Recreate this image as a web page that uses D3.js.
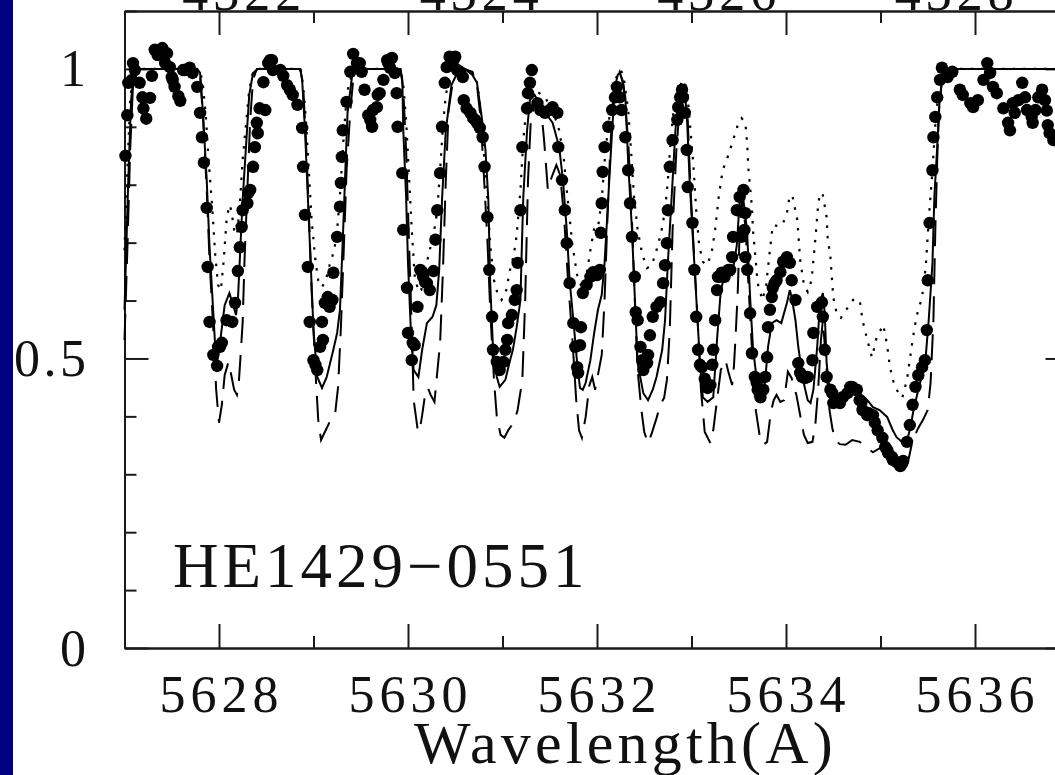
<!DOCTYPE html>
<html><head><meta charset="utf-8">
<script src="https://cdn.jsdelivr.net/npm/d3@7"></script>
<style>
html,body{margin:0;padding:0;background:#fff;overflow:hidden}
svg{display:block}
text{font-family:"Liberation Serif","Times New Roman",serif;fill:#111}
</style></head><body>
<svg id="chart" width="1055" height="775"></svg>
<script>
// Observed normalised flux, [wavelength (A), flux]
const observed = [
[5627.01,0.850],[5627.03,0.920],[5627.04,0.976],[5627.08,0.981],[5627.09,1.010],[5627.11,0.998],
[5627.16,0.976],[5627.19,0.951],[5627.20,0.932],[5627.23,0.914],[5627.27,0.950],[5627.29,0.988],
[5627.32,1.033],[5627.35,1.024],[5627.38,1.029],[5627.40,1.036],[5627.43,1.010],[5627.45,1.027],
[5627.48,1.003],[5627.50,0.986],[5627.51,0.981],[5627.53,0.969],[5627.57,0.953],[5627.59,0.945],
[5627.62,0.998],[5627.64,0.998],[5627.69,1.002],[5627.72,0.993],[5627.77,0.969],[5627.80,0.924],
[5627.82,0.882],[5627.84,0.838],[5627.87,0.760],[5627.88,0.658],[5627.90,0.563],[5627.94,0.506],
[5627.98,0.487],[5627.99,0.520],[5628.01,0.520],[5628.03,0.527],[5628.08,0.566],[5628.14,0.563],
[5628.17,0.596],[5628.20,0.651],[5628.22,0.692],[5628.24,0.727],[5628.25,0.756],[5628.30,0.768],
[5628.31,0.786],[5628.33,0.791],[5628.36,0.831],[5628.38,0.865],[5628.40,0.907],[5628.41,0.889],
[5628.43,0.932],[5628.47,0.977],[5628.49,0.929],[5628.52,1.010],[5628.54,1.015],[5628.56,1.015],
[5628.57,0.998],[5628.65,0.998],[5628.68,0.988],[5628.72,0.972],[5628.75,0.964],[5628.78,0.955],
[5628.83,0.938],[5628.88,0.898],[5628.89,0.831],[5628.91,0.748],[5628.94,0.658],[5628.96,0.563],
[5629.00,0.497],[5629.02,0.489],[5629.04,0.480],[5629.07,0.520],[5629.09,0.563],[5629.10,0.532],
[5629.12,0.596],[5629.14,0.597],[5629.15,0.606],[5629.17,0.589],[5629.20,0.601],[5629.21,0.648],
[5629.25,0.710],[5629.28,0.762],[5629.29,0.803],[5629.30,0.848],[5629.31,0.894],[5629.35,0.943],
[5629.39,0.995],[5629.42,1.026],[5629.46,1.010],[5629.49,1.010],[5629.51,0.995],[5629.54,0.964],
[5629.58,0.920],[5629.60,0.912],[5629.62,0.900],[5629.63,0.929],[5629.67,0.934],[5629.68,0.955],
[5629.70,0.958],[5629.74,0.981],[5629.78,1.015],[5629.79,1.010],[5629.81,1.002],[5629.83,1.019],
[5629.86,0.993],[5629.88,0.958],[5629.89,0.900],[5629.94,0.820],[5629.95,0.722],[5629.99,0.622],
[5630.00,0.544],[5630.04,0.497],[5630.05,0.527],[5630.07,0.523],[5630.10,0.589],[5630.13,0.653],
[5630.15,0.649],[5630.16,0.641],[5630.18,0.632],[5630.20,0.630],[5630.23,0.618],[5630.27,0.651],
[5630.29,0.705],[5630.31,0.756],[5630.34,0.820],[5630.36,0.900],[5630.39,0.976],[5630.41,1.003],
[5630.44,1.021],[5630.48,1.015],[5630.50,1.021],[5630.52,0.998],[5630.55,0.995],[5630.58,0.986],
[5630.59,0.946],[5630.62,0.932],[5630.66,0.924],[5630.69,0.915],[5630.71,0.912],[5630.73,0.907],
[5630.76,0.898],[5630.79,0.882],[5630.81,0.831],[5630.84,0.744],[5630.86,0.653],[5630.89,0.572],
[5630.90,0.515],[5630.94,0.494],[5630.97,0.480],[5631.01,0.494],[5631.03,0.515],[5631.05,0.532],
[5631.06,0.561],[5631.10,0.575],[5631.13,0.601],[5631.15,0.618],[5631.16,0.665],[5631.19,0.756],
[5631.21,0.865],[5631.26,0.932],[5631.27,0.958],[5631.29,0.976],[5631.31,0.998],[5631.37,0.941],
[5631.40,0.929],[5631.45,0.924],[5631.50,0.929],[5631.53,0.934],[5631.58,0.924],[5631.59,0.865],
[5631.63,0.808],[5631.66,0.756],[5631.68,0.699],[5631.71,0.630],[5631.75,0.561],[5631.77,0.520],
[5631.79,0.485],[5631.80,0.475],[5631.82,0.523],[5631.83,0.554],[5631.85,0.613],[5631.89,0.627],
[5631.93,0.641],[5631.96,0.649],[5632.00,0.644],[5632.03,0.653],[5632.04,0.717],[5632.05,0.768],
[5632.06,0.822],[5632.08,0.865],[5632.12,0.900],[5632.16,0.929],[5632.19,0.951],[5632.21,0.969],
[5632.24,0.951],[5632.26,0.929],[5632.30,0.882],[5632.33,0.825],[5632.35,0.768],[5632.37,0.710],
[5632.40,0.641],[5632.41,0.580],[5632.43,0.566],[5632.46,0.520],[5632.48,0.497],[5632.49,0.480],
[5632.53,0.492],[5632.54,0.506],[5632.56,0.540],[5632.59,0.572],[5632.63,0.589],[5632.67,0.597],
[5632.70,0.630],[5632.72,0.661],[5632.74,0.699],[5632.75,0.756],[5632.77,0.831],[5632.80,0.877],
[5632.85,0.912],[5632.86,0.934],[5632.88,0.951],[5632.90,0.964],[5632.91,0.951],[5632.93,0.924],
[5632.95,0.860],[5632.96,0.796],[5633.01,0.734],[5633.03,0.653],[5633.05,0.572],[5633.07,0.515],
[5633.09,0.489],[5633.11,0.485],[5633.14,0.465],[5633.17,0.449],[5633.20,0.454],[5633.22,0.489],
[5633.23,0.515],[5633.25,0.566],[5633.27,0.618],[5633.28,0.641],[5633.30,0.641],[5633.32,0.648],
[5633.35,0.641],[5633.39,0.653],[5633.41,0.653],[5633.43,0.675],[5633.44,0.710],[5633.48,0.756],
[5633.51,0.779],[5633.53,0.710],[5633.55,0.791],[5633.56,0.722],[5633.57,0.751],[5633.57,0.675],
[5633.59,0.653],[5633.62,0.578],[5633.64,0.509],[5633.67,0.468],[5633.69,0.458],[5633.70,0.446],
[5633.73,0.433],[5633.76,0.446],[5633.78,0.468],[5633.80,0.502],[5633.81,0.554],[5633.83,0.584],
[5633.85,0.606],[5633.86,0.622],[5633.88,0.630],[5633.90,0.635],[5633.94,0.649],[5633.97,0.667],
[5634.01,0.675],[5634.04,0.665],[5634.06,0.635],[5634.10,0.601],[5634.13,0.492],[5634.15,0.475],
[5634.17,0.468],[5634.20,0.466],[5634.23,0.468],[5634.28,0.497],[5634.29,0.544],[5634.33,0.589],
[5634.38,0.597],[5634.39,0.572],[5634.41,0.515],[5634.43,0.468],[5634.47,0.446],[5634.49,0.440],
[5634.50,0.423],[5634.54,0.425],[5634.57,0.423],[5634.60,0.433],[5634.65,0.440],[5634.68,0.451],
[5634.70,0.451],[5634.73,0.446],[5634.75,0.446],[5634.78,0.428],[5634.80,0.425],[5634.81,0.411],
[5634.86,0.402],[5634.87,0.406],[5634.92,0.402],[5634.94,0.389],[5634.97,0.376],[5635.02,0.363],
[5635.05,0.347],[5635.07,0.342],[5635.08,0.337],[5635.12,0.330],[5635.13,0.325],[5635.17,0.321],
[5635.21,0.314],[5635.23,0.319],[5635.24,0.323],[5635.28,0.356],[5635.31,0.385],[5635.34,0.420],
[5635.37,0.451],[5635.40,0.471],[5635.44,0.485],[5635.47,0.497],[5635.49,0.549],[5635.50,0.635],
[5635.52,0.734],[5635.55,0.825],[5635.56,0.882],[5635.58,0.917],[5635.60,0.951],[5635.63,0.981],
[5635.65,1.002],[5635.71,0.986],[5635.76,0.995],[5635.84,0.964],[5635.87,0.955],[5635.95,0.941],
[5635.98,0.934],[5636.03,0.946],[5636.09,0.981],[5636.13,1.010],[5636.16,0.993],[5636.19,0.969],
[5636.23,0.958],[5636.30,0.932],[5636.35,0.907],[5636.37,0.894],[5636.40,0.941],[5636.42,0.924],
[5636.46,0.946],[5636.50,0.976],[5636.53,0.951],[5636.55,0.929],[5636.60,0.917],[5636.61,0.907],
[5636.64,0.929],[5636.67,0.951],[5636.71,0.964],[5636.74,0.946],[5636.76,0.928],[5636.77,0.903],
[5636.79,0.889],[5636.83,0.877]
];

// Synthetic spectrum, adopted abundance (solid)
const solidModel = [
[5627.00,0.584],[5627.04,0.808],[5627.07,0.946],[5627.10,0.995],[5627.13,1.000],[5627.77,1.000],
[5627.80,0.993],[5627.83,0.924],[5627.87,0.808],[5627.90,0.692],[5627.94,0.578],[5627.96,0.520],
[5627.98,0.492],[5628.02,0.540],[5628.06,0.592],[5628.11,0.613],[5628.15,0.592],[5628.18,0.575],
[5628.20,0.601],[5628.22,0.670],[5628.25,0.774],[5628.29,0.877],[5628.32,0.955],[5628.36,0.993],
[5628.41,1.000],[5628.86,1.000],[5628.88,0.981],[5628.91,0.894],[5628.94,0.779],[5628.97,0.665],
[5629.00,0.549],[5629.04,0.468],[5629.09,0.449],[5629.14,0.468],[5629.21,0.515],[5629.25,0.544],
[5629.28,0.584],[5629.31,0.705],[5629.34,0.838],[5629.36,0.924],[5629.41,0.990],[5629.45,1.000],
[5629.92,1.000],[5629.94,0.981],[5629.95,0.894],[5629.98,0.779],[5630.00,0.665],[5630.03,0.549],
[5630.06,0.480],[5630.11,0.468],[5630.15,0.515],[5630.20,0.561],[5630.26,0.572],[5630.30,0.592],
[5630.33,0.653],[5630.36,0.774],[5630.40,0.894],[5630.46,0.972],[5630.53,0.996],[5630.60,1.000],
[5630.68,0.990],[5630.73,0.976],[5630.78,0.917],[5630.82,0.860],[5630.85,0.774],[5630.87,0.630],
[5630.90,0.515],[5630.94,0.468],[5630.97,0.451],[5631.03,0.463],[5631.08,0.497],[5631.11,0.515],
[5631.15,0.554],[5631.19,0.601],[5631.20,0.665],[5631.22,0.779],[5631.26,0.894],[5631.29,0.946],
[5631.34,0.955],[5631.43,0.929],[5631.53,0.907],[5631.60,0.865],[5631.64,0.808],[5631.68,0.722],
[5631.71,0.635],[5631.75,0.566],[5631.79,0.492],[5631.82,0.449],[5631.85,0.446],[5631.88,0.458],
[5631.93,0.497],[5631.97,0.544],[5632.01,0.584],[5632.05,0.610],[5632.08,0.665],[5632.12,0.779],
[5632.16,0.894],[5632.19,0.969],[5632.22,0.990],[5632.24,0.993],[5632.27,0.981],[5632.30,0.951],
[5632.33,0.838],[5632.37,0.722],[5632.40,0.606],[5632.43,0.492],[5632.49,0.440],[5632.54,0.428],
[5632.59,0.446],[5632.63,0.468],[5632.69,0.515],[5632.72,0.566],[5632.75,0.665],[5632.79,0.779],
[5632.83,0.894],[5632.86,0.951],[5632.90,0.969],[5632.92,0.972],[5632.95,0.924],[5632.98,0.808],
[5633.02,0.692],[5633.06,0.578],[5633.09,0.492],[5633.12,0.433],[5633.17,0.425],[5633.23,0.433],
[5633.27,0.532],[5633.31,0.618],[5633.36,0.649],[5633.43,0.644],[5633.48,0.696],[5633.51,0.774],
[5633.53,0.796],[5633.57,0.748],[5633.59,0.713],[5633.62,0.606],[5633.65,0.520],[5633.69,0.463],
[5633.73,0.433],[5633.75,0.428],[5633.78,0.463],[5633.81,0.520],[5633.85,0.561],[5633.90,0.566],
[5633.95,0.561],[5634.01,0.596],[5634.04,0.618],[5634.06,0.606],[5634.10,0.566],[5634.13,0.520],
[5634.18,0.463],[5634.23,0.428],[5634.26,0.423],[5634.29,0.446],[5634.33,0.520],[5634.36,0.596],
[5634.39,0.613],[5634.41,0.578],[5634.43,0.492],[5634.47,0.433],[5634.52,0.423],[5634.57,0.433],
[5634.65,0.446],[5634.71,0.458],[5634.78,0.440],[5634.86,0.428],[5634.92,0.416],[5634.99,0.411],
[5635.07,0.399],[5635.13,0.376],[5635.17,0.364],[5635.24,0.354],[5635.28,0.359],[5635.31,0.376],
[5635.35,0.411],[5635.40,0.446],[5635.44,0.471],[5635.48,0.506],[5635.51,0.566],[5635.55,0.665],
[5635.57,0.779],[5635.60,0.865],[5635.62,0.934],[5635.65,0.981],[5635.68,0.998],[5635.71,1.000],
[5637.00,1.000]
];

// Weaker-line synthesis (dotted)
const dottedModel = [
[5627.00,0.687],[5627.03,0.825],[5627.06,0.946],[5627.09,0.989],[5627.12,1.000],[5627.77,1.000],
[5627.80,0.998],[5627.83,0.972],[5627.86,0.920],[5627.89,0.843],[5627.93,0.756],[5627.96,0.679],
[5627.99,0.627],[5628.02,0.618],[5628.05,0.670],[5628.08,0.739],[5628.11,0.765],[5628.13,0.756],
[5628.16,0.722],[5628.19,0.713],[5628.22,0.765],[5628.25,0.843],[5628.29,0.912],[5628.32,0.964],
[5628.36,0.995],[5628.41,1.000],[5628.86,1.000],[5628.89,0.972],[5628.92,0.912],[5628.95,0.825],
[5628.98,0.739],[5629.02,0.670],[5629.05,0.635],[5629.09,0.623],[5629.13,0.635],[5629.17,0.661],
[5629.22,0.687],[5629.25,0.722],[5629.28,0.782],[5629.31,0.860],[5629.34,0.929],[5629.37,0.972],
[5629.42,0.995],[5629.46,1.000],[5629.92,1.000],[5629.95,0.972],[5629.98,0.912],[5630.01,0.817],
[5630.04,0.722],[5630.07,0.644],[5630.11,0.615],[5630.14,0.618],[5630.18,0.653],[5630.23,0.687],
[5630.27,0.713],[5630.31,0.756],[5630.34,0.825],[5630.37,0.903],[5630.40,0.955],[5630.44,0.984],
[5630.51,0.998],[5630.60,1.000],[5630.68,0.995],[5630.73,0.977],[5630.77,0.929],[5630.80,0.860],
[5630.84,0.774],[5630.87,0.696],[5630.91,0.635],[5630.95,0.610],[5630.99,0.601],[5631.04,0.618],
[5631.08,0.653],[5631.12,0.679],[5631.15,0.713],[5631.19,0.791],[5631.22,0.877],[5631.25,0.929],
[5631.29,0.955],[5631.34,0.964],[5631.45,0.951],[5631.53,0.929],[5631.60,0.894],[5631.65,0.843],
[5631.69,0.774],[5631.74,0.696],[5631.79,0.644],[5631.84,0.622],[5631.88,0.635],[5631.93,0.687],
[5631.97,0.725],[5632.01,0.725],[5632.05,0.774],[5632.09,0.860],[5632.14,0.929],[5632.18,0.972],
[5632.22,0.993],[5632.25,0.998],[5632.28,0.989],[5632.33,0.929],[5632.36,0.860],[5632.39,0.782],
[5632.43,0.722],[5632.48,0.679],[5632.53,0.656],[5632.58,0.661],[5632.63,0.687],[5632.68,0.718],
[5632.72,0.756],[5632.75,0.808],[5632.78,0.877],[5632.81,0.929],[5632.86,0.964],[5632.91,0.981],
[5632.95,0.967],[5632.98,0.912],[5633.02,0.834],[5633.05,0.756],[5633.08,0.696],[5633.12,0.667],
[5633.16,0.661],[5633.21,0.679],[5633.25,0.722],[5633.29,0.782],[5633.33,0.825],[5633.39,0.851],
[5633.44,0.877],[5633.49,0.903],[5633.53,0.915],[5633.57,0.907],[5633.59,0.869],[5633.60,0.831],
[5633.62,0.796],[5633.64,0.760],[5633.65,0.722],[5633.67,0.687],[5633.70,0.630],[5633.75,0.601],
[5633.79,0.627],[5633.83,0.687],[5633.86,0.730],[5633.91,0.729],[5633.96,0.730],[5634.01,0.751],
[5634.04,0.782],[5634.07,0.779],[5634.12,0.739],[5634.15,0.670],[5634.19,0.627],[5634.23,0.615],
[5634.27,0.635],[5634.31,0.705],[5634.34,0.765],[5634.36,0.786],[5634.39,0.782],[5634.43,0.744],
[5634.44,0.710],[5634.47,0.675],[5634.50,0.606],[5634.54,0.575],[5634.58,0.570],[5634.65,0.587],
[5634.71,0.601],[5634.78,0.601],[5634.81,0.566],[5634.86,0.532],[5634.91,0.502],[5634.96,0.537],
[5635.03,0.558],[5635.07,0.523],[5635.10,0.485],[5635.15,0.451],[5635.23,0.432],[5635.28,0.463],
[5635.34,0.532],[5635.38,0.572],[5635.44,0.606],[5635.48,0.661],[5635.51,0.739],[5635.55,0.825],
[5635.58,0.903],[5635.61,0.955],[5635.64,0.984],[5635.68,0.998],[5635.71,1.000],[5637.00,1.000]
];

// Stronger-line synthesis (dashed)
const dashedModel = [
[5627.00,0.532],[5627.03,0.687],[5627.06,0.860],[5627.09,0.972],[5627.12,1.000],[5627.77,1.000],
[5627.80,0.989],[5627.83,0.920],[5627.87,0.791],[5627.90,0.670],[5627.94,0.549],[5627.97,0.446],
[5628.00,0.389],[5628.03,0.420],[5628.06,0.471],[5628.10,0.494],[5628.13,0.471],[5628.16,0.446],
[5628.19,0.437],[5628.21,0.459],[5628.23,0.509],[5628.25,0.561],[5628.27,0.670],[5628.30,0.791],
[5628.33,0.912],[5628.36,0.981],[5628.40,1.000],[5628.86,1.000],[5628.89,0.972],[5628.92,0.877],
[5628.95,0.756],[5628.98,0.618],[5629.02,0.480],[5629.05,0.394],[5629.08,0.359],[5629.12,0.373],
[5629.17,0.390],[5629.23,0.406],[5629.26,0.451],[5629.29,0.554],[5629.32,0.687],[5629.35,0.825],
[5629.39,0.929],[5629.42,0.981],[5629.46,1.000],[5629.92,1.000],[5629.95,0.964],[5629.98,0.860],
[5630.01,0.705],[5630.04,0.549],[5630.06,0.428],[5630.10,0.380],[5630.12,0.373],[5630.15,0.402],
[5630.18,0.437],[5630.21,0.449],[5630.24,0.437],[5630.28,0.425],[5630.31,0.477],[5630.34,0.527],
[5630.37,0.653],[5630.40,0.808],[5630.43,0.929],[5630.48,0.984],[5630.53,1.000],[5630.60,1.000],
[5630.68,0.995],[5630.73,0.972],[5630.77,0.912],[5630.80,0.825],[5630.84,0.705],[5630.87,0.584],
[5630.91,0.463],[5630.94,0.399],[5630.98,0.368],[5631.02,0.363],[5631.06,0.376],[5631.10,0.385],
[5631.13,0.394],[5631.16,0.411],[5631.21,0.463],[5631.24,0.601],[5631.27,0.808],[5631.30,0.912],
[5631.35,0.946],[5631.41,0.929],[5631.44,0.877],[5631.48,0.791],[5631.52,0.813],[5631.57,0.834],
[5631.61,0.817],[5631.65,0.748],[5631.69,0.644],[5631.74,0.532],[5631.78,0.428],[5631.81,0.376],
[5631.84,0.363],[5631.88,0.399],[5631.92,0.454],[5631.95,0.468],[5631.98,0.446],[5632.05,0.506],
[5632.08,0.601],[5632.11,0.739],[5632.14,0.860],[5632.17,0.946],[5632.21,0.984],[5632.24,0.995],
[5632.28,0.972],[5632.33,0.877],[5632.37,0.739],[5632.40,0.601],[5632.43,0.480],[5632.47,0.411],
[5632.50,0.373],[5632.54,0.354],[5632.58,0.371],[5632.63,0.397],[5632.67,0.420],[5632.71,0.432],
[5632.74,0.463],[5632.77,0.549],[5632.80,0.722],[5632.84,0.860],[5632.88,0.946],[5632.92,0.967],
[5632.96,0.912],[5632.99,0.791],[5633.03,0.670],[5633.07,0.549],[5633.10,0.446],[5633.14,0.373],
[5633.20,0.354],[5633.23,0.376],[5633.27,0.428],[5633.31,0.480],[5633.36,0.497],[5633.39,0.477],
[5633.43,0.454],[5633.45,0.489],[5633.47,0.549],[5633.49,0.618],[5633.51,0.722],[5633.53,0.774],
[5633.57,0.730],[5633.60,0.635],[5633.64,0.515],[5633.68,0.411],[5633.72,0.368],[5633.76,0.351],
[5633.80,0.356],[5633.84,0.408],[5633.87,0.428],[5633.90,0.437],[5633.94,0.425],[5633.98,0.428],
[5634.02,0.477],[5634.06,0.466],[5634.11,0.437],[5634.15,0.402],[5634.19,0.368],[5634.23,0.354],
[5634.28,0.356],[5634.31,0.385],[5634.34,0.446],[5634.37,0.532],[5634.39,0.566],[5634.43,0.480],
[5634.46,0.411],[5634.49,0.380],[5634.52,0.359],[5634.57,0.352],[5634.63,0.351],[5634.70,0.359],
[5634.78,0.356],[5634.86,0.345],[5634.92,0.338],[5634.99,0.345],[5635.07,0.342],[5635.13,0.333],
[5635.21,0.321],[5635.26,0.316],[5635.30,0.328],[5635.34,0.359],[5635.40,0.380],[5635.45,0.394],
[5635.50,0.411],[5635.53,0.458],[5635.56,0.566],[5635.58,0.722],[5635.60,0.843],[5635.62,0.929],
[5635.65,0.981],[5635.68,0.998],[5635.71,1.000],[5637.00,1.000]
];

const xMajorTicks = [5628, 5630, 5632, 5634, 5636];
const xMinorTicks = [5627, 5629, 5631, 5633, 5635, 5637];
const yMajorTicks = [0, 0.5, 1];
const yMinorTicks = [0.1, 0.2, 0.3, 0.4, 0.6, 0.7, 0.8, 0.9, 1.1];
const yTickLabels = ["0", "0.5", "1"];
const topTickValues = [4322, 4324, 4326, 4328];
const starName = "HE1429\u22120551";
const xTitle = "Wavelength(A)";

const svg = d3.select("#chart");
const x = d3.scaleLinear().domain([5627, 5637]).range([124.5, 1069.5]);
const y = d3.scaleLinear().domain([0, 1.1]).range([648, 11]);
// second wavelength scale printed along the top edge
const xTop = d3.scaleLinear().domain([4322, 4328]).range([x(5628.24), x(5635.78)]);

svg.append("rect").attr("width", 1055).attr("height", 775).attr("fill", "#fff");

const axisColor = "#1a1a1a";
function styleAxis(g) {
  g.selectAll("path,line").attr("stroke", axisColor).attr("stroke-width", 2);
  g.selectAll("text").remove();
}
// bottom
svg.append("g").attr("transform", `translate(0,${y(0)})`)
  .call(d3.axisBottom(x).tickValues(xMajorTicks).tickSize(-24).tickSizeOuter(0)).call(styleAxis);
svg.append("g").attr("transform", `translate(0,${y(0)})`)
  .call(d3.axisBottom(x).tickValues(xMinorTicks).tickSize(-12).tickSizeOuter(0)).call(styleAxis);
// top
svg.append("g").attr("transform", `translate(0,${y(1.1)})`)
  .call(d3.axisTop(x).tickValues(xMajorTicks).tickSize(-24).tickSizeOuter(0)).call(styleAxis);
svg.append("g").attr("transform", `translate(0,${y(1.1)})`)
  .call(d3.axisTop(x).tickValues(xMinorTicks).tickSize(-12).tickSizeOuter(0)).call(styleAxis);
// left
svg.append("g").attr("transform", `translate(${x(5627)},0)`)
  .call(d3.axisLeft(y).tickValues(yMajorTicks).tickSize(-24).tickSizeOuter(0)).call(styleAxis);
svg.append("g").attr("transform", `translate(${x(5627)},0)`)
  .call(d3.axisLeft(y).tickValues(yMinorTicks).tickSize(-12).tickSizeOuter(0)).call(styleAxis);
// right
svg.append("g").attr("transform", `translate(${x(5637)},0)`)
  .call(d3.axisRight(y).tickValues(yMajorTicks).tickSize(-24).tickSizeOuter(0)).call(styleAxis);
svg.append("g").attr("transform", `translate(${x(5637)},0)`)
  .call(d3.axisRight(y).tickValues(yMinorTicks).tickSize(-12).tickSizeOuter(0)).call(styleAxis);

// tick labels
svg.append("g").selectAll("text").data(xMajorTicks).join("text")
  .attr("x", d => x(d) + 2.5).attr("y", 712)
  .attr("text-anchor", "middle").attr("font-size", 52).attr("letter-spacing", 5)
  .text(d => d);
svg.append("g").selectAll("text").data(yMajorTicks).join("text")
  .attr("x", 89.5).attr("y", d => y(d) + 17.5)
  .attr("text-anchor", "end").attr("font-size", 52).attr("letter-spacing", 3.5)
  .text((d, i) => yTickLabels[i]);
svg.append("g").selectAll("text").data(topTickValues).join("text")
  .attr("x", d => xTop(d) + 2.5).attr("y", 10)
  .attr("text-anchor", "middle").attr("font-size", 52).attr("letter-spacing", 5)
  .text(d => d);

svg.append("text").attr("x", 625.5).attr("y", 763)
  .attr("text-anchor", "middle").attr("font-size", 60).attr("letter-spacing", 4.2)
  .text(xTitle);
svg.append("text").attr("x", 173).attr("y", 587)
  .attr("font-size", 63).attr("letter-spacing", 4)
  .text(starName);

// model spectra
const line = d3.line().x(d => x(d[0])).y(d => y(d[1])).curve(d3.curveLinear);
svg.append("path").datum(dottedModel).attr("d", line)
  .attr("fill", "none").attr("stroke", "#000").attr("stroke-width", 2.2)
  .attr("stroke-dasharray", "2.5,8");
svg.append("path").datum(dashedModel).attr("d", line)
  .attr("fill", "none").attr("stroke", "#000").attr("stroke-width", 2)
  .attr("stroke-dasharray", "26,12");
svg.append("path").datum(solidModel).attr("d", line)
  .attr("fill", "none").attr("stroke", "#000").attr("stroke-width", 2);

// observed points
svg.append("g").selectAll("circle").data(observed).join("circle")
  .attr("cx", d => x(d[0])).attr("cy", d => y(d[1])).attr("r", 6.2)
  .attr("fill", "#000");

// slide background strip on the left edge
svg.append("rect").attr("x", 0).attr("y", 0).attr("width", 13).attr("height", 775)
  .attr("fill", "#000080");
</script>
</body></html>
